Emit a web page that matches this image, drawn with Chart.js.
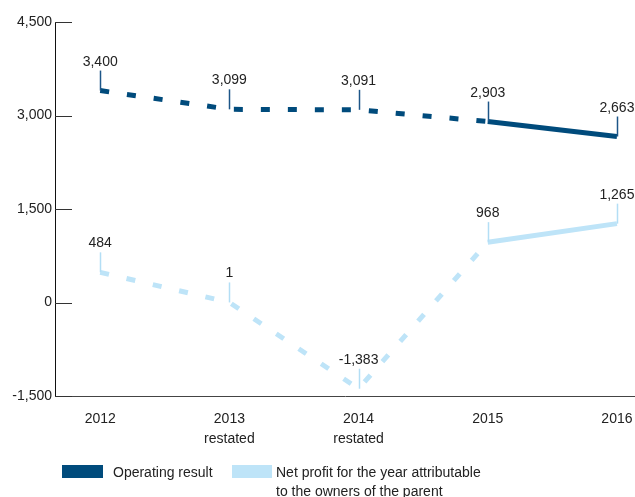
<!DOCTYPE html>
<html>
<head>
<meta charset="utf-8">
<script src="https://cdn.jsdelivr.net/npm/chart.js@4"></script>
<style>
  body { margin: 0; background: #fff; }
  #wrap { position: relative; width: 635px; height: 497px; overflow: hidden; }
  .legend { position: absolute; font: 14px "Liberation Sans", Arial, sans-serif; color: #222; line-height: 19px; }
  .box { position: absolute; height: 13px; }
</style>
</head>
<body>
<div id="wrap">
  <canvas id="chart" width="635" height="497"></canvas>
  <div class="box" style="left:62px;top:465px;width:41px;background:#004b7c"></div>
  <div class="legend" style="left:113px;top:463px">Operating result</div>
  <div class="box" style="left:232px;top:465px;width:40px;background:#bee4f8"></div>
  <div class="legend" style="left:276px;top:463px">Net profit for the year attributable<br>to the owners of the parent</div>
</div>
<script>
const years = [["2012"], ["2013", "restated"], ["2014", "restated"], ["2015"], ["2016"]];
const operatingResult = [3400, 3099, 3091, 2903, 2663];
const netProfit = [484, 1, -1383, 968, 1265];
const yTicks = [-1500, 0, 1500, 3000, 4500];

const DARK = "#004b7c";
const LIGHT = "#bee4f8";
const FONT = '"Liberation Sans", Arial, sans-serif';

const fmt = v => v.toLocaleString("en-US");

// dashed up to 2015, solid after
const dashUntil2015 = ctx => ctx.p0DataIndex < 3 ? [9, 18] : undefined;

// short tick marks inside the plot, plus value labels with leader lines
const extras = {
  id: "extras",
  afterDatasetsDraw(chart) {
    const ctx = chart.ctx;
    const y = chart.scales.y;
    const area = chart.chartArea;
    ctx.save();
    ctx.strokeStyle = "#333";
    ctx.lineWidth = 1;
    y.ticks.forEach(t => {
      const py = Math.round(y.getPixelForValue(t.value)) + 0.5;
      ctx.beginPath();
      ctx.moveTo(area.left, py);
      ctx.lineTo(area.left + 17, py);
      ctx.stroke();
    });

    ctx.font = "14px " + FONT;
    ctx.textAlign = "center";
    ctx.textBaseline = "alphabetic";
    chart.data.datasets.forEach((ds, di) => {
      const meta = chart.getDatasetMeta(di);
      meta.data.forEach((pt, i) => {
        const px = Math.round(pt.x) + 0.5;
        ctx.strokeStyle = di === 0 ? "#1d5688" : "#b3def5";
        ctx.lineWidth = 1.5;
        ctx.beginPath();
        ctx.moveTo(px, pt.y);
        ctx.lineTo(px, pt.y - 20);
        ctx.stroke();
        ctx.fillStyle = "#222";
        ctx.fillText(fmt(ds.data[i].y), pt.x, pt.y - 25);
      });
    });
    ctx.restore();
  }
};

new Chart(document.getElementById("chart"), {
  type: "line",
  data: {
    datasets: [
      {
        label: "Operating result",
        data: operatingResult.map((v, i) => ({ x: i, y: v })),
        borderColor: DARK,
        borderWidth: 5,
        segment: { borderDash: dashUntil2015 }
      },
      {
        label: "Net profit for the year attributable to the owners of the parent",
        data: netProfit.map((v, i) => ({ x: i, y: v })),
        borderColor: LIGHT,
        borderWidth: 5,
        segment: { borderDash: dashUntil2015 }
      }
    ]
  },
  options: {
    responsive: false,
    animation: false,
    layout: { padding: { top: 22, right: 0, left: 0, bottom: 0 } },
    elements: {
      point: { radius: 0 },
      line: { tension: 0, borderCapStyle: "butt" }
    },
    plugins: {
      legend: { display: false },
      tooltip: { enabled: false }
    },
    scales: {
      x: {
        type: "linear",
        min: -0.35,
        max: 4.14,
        afterBuildTicks: s => { s.ticks = years.map((_, i) => ({ value: i })); },
        afterFit: s => { s.height = 101; s.paddingLeft = 0; s.paddingRight = 0; },
        grid: { display: false, drawTicks: false },
        border: { display: true, color: "#444", width: 1 },
        ticks: {
          padding: 13,
          color: "#222",
          maxRotation: 0,
          autoSkip: false,
          font: { family: FONT, size: 14, lineHeight: 1.43 },
          callback: v => years[v]
        }
      },
      y: {
        min: -1500,
        max: 4500,
        afterBuildTicks: s => { s.ticks = yTicks.map(v => ({ value: v })); },
        afterFit: s => { s.width = 55; },
        grid: { display: false, drawTicks: false },
        border: { display: true, color: "#111", width: 1 },
        ticks: {
          padding: 3,
          color: "#222",
          font: { family: FONT, size: 14 },
          callback: v => fmt(v)
        }
      }
    }
  },
  plugins: [extras]
});
</script>
</body>
</html>
